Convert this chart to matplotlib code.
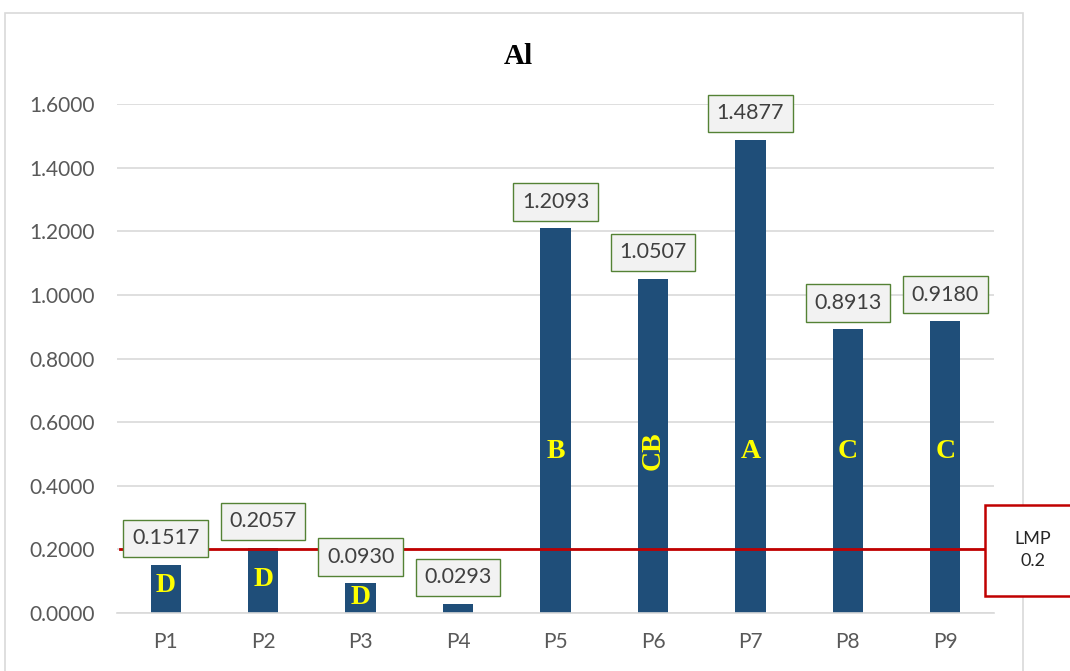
import matplotlib.pyplot as plt
from matplotlib.patches import Rectangle

sites = ['P1', 'P2', 'P3', 'P4', 'P5', 'P6', 'P7', 'P8', 'P9']
al_values = [0.1517, 0.2057, 0.0930, 0.0293, 1.2093, 1.0507, 1.4877, 0.8913, 0.9180]
groups = ['D', 'D', 'D', '', 'B', 'CB', 'A', 'C', 'C']
group_y = [0.088, 0.104, 0.050, 0.0, 0.509, 0.509, 0.509, 0.509, 0.509]
lmp = 0.2

sans = ['Lato', 'DejaVu Sans']
serif = ['Liberation Serif', 'DejaVu Serif']

fig = plt.figure(figsize=(10.7, 6.71), dpi=100)
ax = fig.add_axes([0.1093, 0.0864, 0.8197, 0.7586])

# chart frame
fig.patches.append(Rectangle((0.0047, -0.05), 0.9513, 1.0306, transform=fig.transFigure,
                             fill=False, edgecolor='#d9d9d9', lw=1.2))

x = range(len(sites))
ax.bar(x, al_values, width=0.31, color='#1f4e79', zorder=2)

for i, v in enumerate(al_values):
    ax.annotate(f'{v:.4f}', (i, v), xytext=(0, 19), textcoords='offset points',
                ha='center', va='center', fontsize=15.5, color='#404040', family=sans,
                bbox=dict(boxstyle='square,pad=0.4', fc='#f2f2f2', ec='#548235', lw=1),
                zorder=5)
    if groups[i]:
        rot = 90 if len(groups[i]) > 1 else 0
        ax.text(i, group_y[i], groups[i], ha='center', va='center', rotation=rot,
                fontsize=20, fontweight='bold', color='#ffff00', family=serif, zorder=4)

ax.plot([-0.47, 8.5], [lmp, lmp], color='#c00000', lw=2, zorder=3, clip_on=False)
fig.patches.append(Rectangle((0.9206, 0.1118), 0.09, 0.1356, transform=fig.transFigure,
                             fc='white', ec='#c00000', lw=1.8, zorder=6))
fig.text(0.9654, 0.18, 'LMP\n0.2', ha='center', va='center', fontsize=13,
         color='#262626', family=sans, linespacing=1.5, zorder=7)

ax.set_xlim(-0.5, 8.5)
ax.set_ylim(0, 1.6)
ax.set_yticks([i * 0.2 for i in range(9)])
ax.set_yticklabels([f'{i * 0.2:.4f}' for i in range(9)])
ax.set_xticks(list(x))
ax.set_xticklabels(sites)
ax.grid(axis='y', color='#d9d9d9', lw=1.2, zorder=0)
ax.tick_params(length=0, labelsize=15, colors='#595959', pad=14)
ax.tick_params(axis='y', pad=16)
for lab in ax.get_xticklabels() + ax.get_yticklabels():
    lab.set_family(sans)
for s in ['top', 'right', 'left']:
    ax.spines[s].set_visible(False)
ax.spines['bottom'].set_color('#d9d9d9')
ax.spines['bottom'].set_linewidth(1.2)

fig.text(0.484, 0.916, 'Al', ha='center', va='center', fontsize=21,
         fontweight='bold', family=serif, color='black')

fig.savefig('out.png', dpi=100, facecolor='white')
